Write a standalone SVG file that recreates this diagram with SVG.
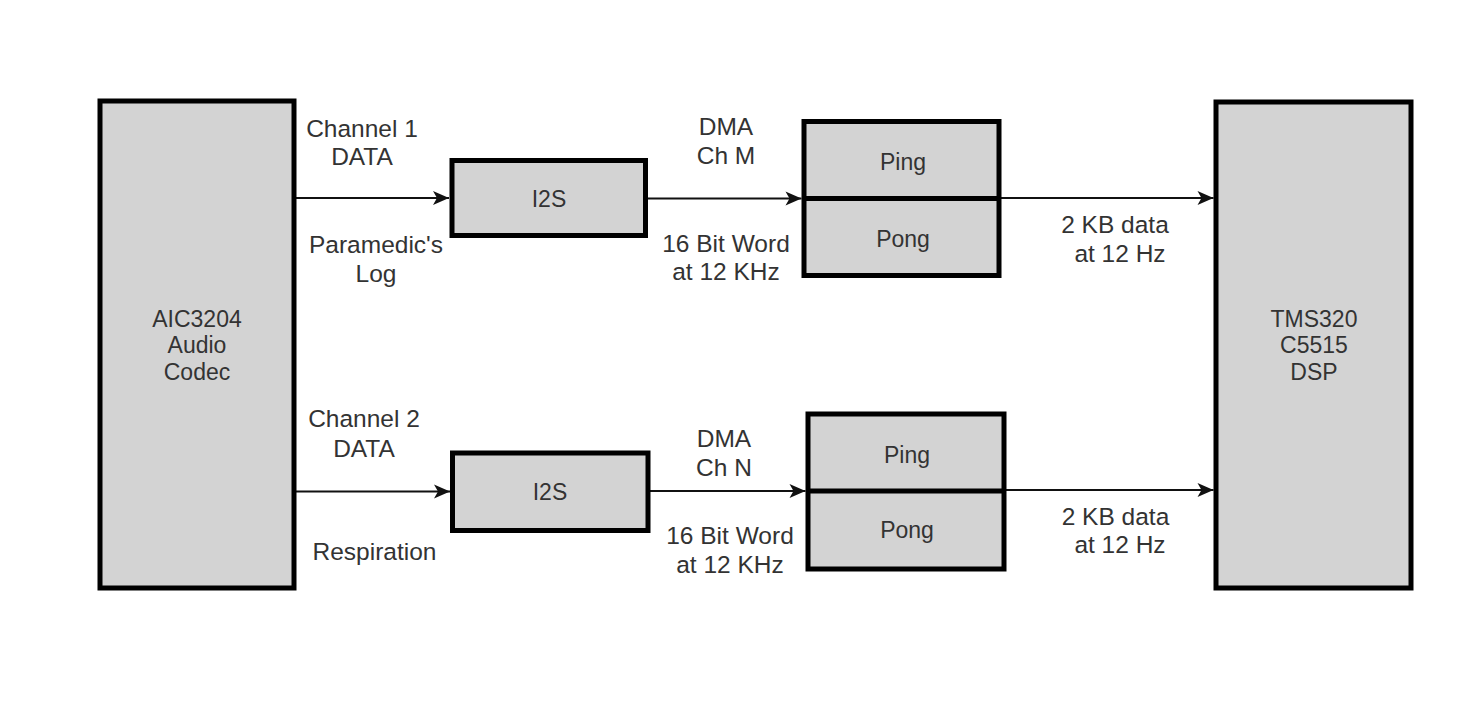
<svg xmlns="http://www.w3.org/2000/svg" width="1475" height="720" viewBox="0 0 1475 720">
<defs>
<style>
.box{fill:#d3d3d3;stroke:#000;stroke-width:5}
.div{stroke:#000;stroke-width:5}
.btxt{font-family:"Liberation Sans",Arial,sans-serif;font-size:23px;fill:#333;text-anchor:middle}
.lbl{font-family:"Liberation Sans",Arial,sans-serif;font-size:24.5px;fill:#333;text-anchor:middle}
.edge{stroke:#111;stroke-width:2;fill:none;marker-end:url(#arr)}
</style>
<marker id="arr" markerUnits="userSpaceOnUse" markerWidth="20" markerHeight="20" viewBox="0 0 20 20" refX="17" refY="10" orient="auto">
<path d="M17,10 L1,3 L5,10 L1,17 Z" fill="#111"/>
</marker>
</defs>
<rect width="1475" height="720" fill="#fff"/>
<g id="connectors">
<line class="edge" x1="294" y1="198" x2="449" y2="198"/>
<line class="edge" x1="645.5" y1="198.5" x2="801.5" y2="198.5"/>
<line class="edge" x1="999" y1="198" x2="1213.5" y2="198"/>
<line class="edge" x1="294" y1="491.5" x2="450" y2="491.5"/>
<line class="edge" x1="648" y1="491" x2="805.5" y2="491"/>
<line class="edge" x1="1004" y1="490" x2="1213.5" y2="490"/>
</g>
<g id="codec">
<rect class="box" x="100" y="101" width="194" height="487"/>
<text class="btxt" x="197" y="326.7">AIC3204</text>
<text class="btxt" x="197" y="353.3">Audio</text>
<text class="btxt" x="197" y="380">Codec</text>
</g>
<g id="dsp">
<rect class="box" x="1216" y="102" width="195" height="486"/>
<text class="btxt" x="1314" y="326.7">TMS320</text>
<text class="btxt" x="1314" y="353.3">C5515</text>
<text class="btxt" x="1314" y="380">DSP</text>
</g>
<g id="i2s1">
<rect class="box" x="452" y="160.5" width="193.5" height="75"/>
<text class="btxt" x="549" y="206.7">I2S</text>
</g>
<g id="i2s2">
<rect class="box" x="452.5" y="453" width="195.5" height="77.5"/>
<text class="btxt" x="550" y="500">I2S</text>
</g>
<g id="pingpong1">
<rect class="box" x="804" y="121.5" width="195" height="154"/>
<line class="div" x1="804" y1="198.5" x2="999" y2="198.5"/>
<text class="btxt" x="903" y="170">Ping</text>
<text class="btxt" x="903" y="247">Pong</text>
</g>
<g id="pingpong2">
<rect class="box" x="808" y="414" width="196" height="155"/>
<line class="div" x1="808" y1="491" x2="1004" y2="491"/>
<text class="btxt" x="907" y="462.7">Ping</text>
<text class="btxt" x="907" y="538">Pong</text>
</g>
<g id="labels">
<text class="lbl" x="362" y="136.5">Channel 1</text>
<text class="lbl" x="362" y="165">DATA</text>
<text class="lbl" x="376" y="253">Paramedic's</text>
<text class="lbl" x="376" y="282">Log</text>
<text class="lbl" x="726" y="135">DMA</text>
<text class="lbl" x="726" y="164">Ch M</text>
<text class="lbl" x="726" y="252">16 Bit Word</text>
<text class="lbl" x="726" y="280">at 12 KHz</text>
<text class="lbl" x="1115" y="232.7">2 KB data</text>
<text class="lbl" x="1120" y="262">at 12 Hz</text>
<text class="lbl" x="364" y="427.3">Channel 2</text>
<text class="lbl" x="364" y="456.5">DATA</text>
<text class="lbl" x="374.5" y="560">Respiration</text>
<text class="lbl" x="724" y="447.3">DMA</text>
<text class="lbl" x="724" y="476">Ch N</text>
<text class="lbl" x="730" y="544">16 Bit Word</text>
<text class="lbl" x="730" y="573">at 12 KHz</text>
<text class="lbl" x="1115.5" y="525">2 KB data</text>
<text class="lbl" x="1120" y="553.3">at 12 Hz</text>
</g>
</svg>
